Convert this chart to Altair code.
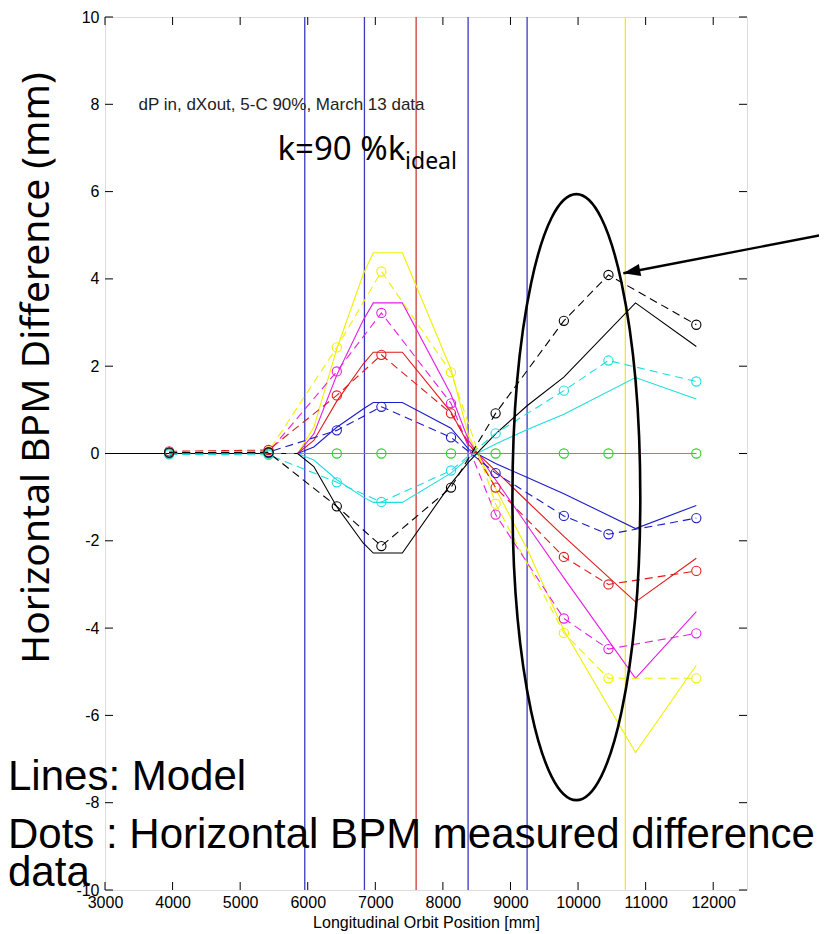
import altair as alt
import pandas as pd

# ---------------- data ----------------
series_names = ["yellow", "magenta", "red", "blue", "green", "cyan", "black"]
series_colors = ["#f0f000", "#e41ee4", "#e01a1a", "#1c1cc8", "#22d422", "#1edede", "#000000"]

# model (solid lines)
model_x = [3000, 3950, 5420, 5850, 6090, 6430, 6820, 6970, 7400, 8120, 8380, 8780, 9250, 9790, 10850, 11750]
model_yellow = [0, 0, 0, 0, 0.6, 2.4, 4.1, 4.6, 4.6, 1.93, 0.4, -0.8, -2.2, -4.05, -6.85, -4.85]
model_magenta = [0, 0, 0, 0, 0.45, 1.8, 3.05, 3.45, 3.45, 1.35, 0.3, -0.6, -1.65, -2.85, -5.15, -3.62]
model_red = [0, 0, 0, 0, 0.3, 1.2, 2.05, 2.32, 2.32, 0.95, 0.2, -0.4, -1.1, -1.9, -3.4, -2.4]
model_blue = [0, 0, 0, 0, 0.15, 0.6, 1.02, 1.17, 1.17, 0.58, 0.1, -0.23, -0.55, -0.92, -1.72, -1.19]
model_green = [0, 0, 0, 0, 0, 0, 0, 0, 0, 0, 0, 0, 0, 0, 0, 0]
model_cyan = [0, 0, 0, 0, -0.15, -0.6, -1.0, -1.12, -1.12, -0.45, -0.1, 0.22, 0.55, 0.9, 1.74, 1.25]
model_black = [0, 0, 0, 0, -0.3, -1.22, -2.05, -2.28, -2.28, -0.69, -0.2, 0.45, 1.1, 1.75, 3.45, 2.45]

# measured BPM differences (dashed lines with circles)
bpm_x = [3950, 5420, 6430, 7090, 8120, 8780, 9790, 10450, 11750]
meas_yellow = [0.0, 0.05, 2.43, 4.17, 1.86, -1.15, -4.11, -5.15, -5.15]
meas_magenta = [0.0, 0.03, 1.88, 3.22, 1.15, -1.4, -3.78, -4.48, -4.12]
meas_red = [0.05, 0.08, 1.33, 2.26, 0.92, -0.78, -2.37, -3.0, -2.69]
meas_blue = [0.02, 0.03, 0.53, 1.07, 0.37, -0.45, -1.43, -1.85, -1.48]
meas_green = [0, 0, 0, 0, 0, 0, 0, 0, 0]
meas_cyan = [-0.02, -0.03, -0.66, -1.11, -0.39, 0.46, 1.44, 2.13, 1.65]
meas_black = [0.02, 0.02, -1.21, -2.12, -0.78, 0.92, 3.04, 4.09, 2.95]

# magnet element positions (vertical lines)
element_x = [5956, 6839, 7604, 8373, 9246, 10700]
element_colors = ["#3a3abf", "#3a3abf", "#cc3a3a", "#3a3abf", "#3a3abf", "#f0f000"]

x_ticks = [3000, 4000, 5000, 6000, 7000, 8000, 9000, 10000, 11000, 12000]
y_ticks = [-10, -8, -6, -4, -2, 0, 2, 4, 6, 8, 10]

# annotation anchors (data coordinates)
ellipse_center = [9975, -1.0]
arrow_x = [13690, 10670]
arrow_y = [5.03, 4.13]

# ---------------- tables ----------------
model_vals = [model_yellow, model_magenta, model_red, model_blue, model_green, model_cyan, model_black]
meas_vals = [meas_yellow, meas_magenta, meas_red, meas_blue, meas_green, meas_cyan, meas_black]

model_df = pd.DataFrame(
    [{"x": x, "y": y, "series": n, "k": i}
     for n, vals in zip(series_names, model_vals) for i, (x, y) in enumerate(zip(model_x, vals))]
)
meas_df = pd.DataFrame(
    [{"x": x, "y": y, "series": n, "k": i}
     for n, vals in zip(series_names, meas_vals) for i, (x, y) in enumerate(zip(bpm_x, vals))]
)
elem_df = pd.DataFrame({"x": element_x, "c": element_colors})
xt_df = pd.DataFrame({"x": x_ticks})
yt_df = pd.DataFrame({"y": y_ticks})

W, H = 642, 873
FONT = "Liberation Sans"

xscale = alt.Scale(domain=[3000, 12500], nice=False, zero=False)
yscale = alt.Scale(domain=[-10, 10], nice=False, zero=False)
xaxis = alt.Axis(values=x_ticks, format="d", ticks=False, domain=False, grid=False,
                 labelPadding=4, labelFontSize=16, labelFont=FONT, labelColor="black",
                 labelFlush=False, title="Longitudinal Orbit Position [mm]", titleFont=FONT,
                 titleFontSize=16, titleFontWeight="normal", titleColor="black", titlePadding=4)
yaxis = alt.Axis(values=y_ticks, labelExpr="'' + datum.value", ticks=False, domain=False,
                 grid=False, labelPadding=6, labelFontSize=16, labelFont=FONT,
                 labelColor="black", labelFlush=False, title=None)


def X(f="x"):
    return alt.X(f"{f}:Q", scale=xscale, axis=xaxis)


def Y(f="y"):
    return alt.Y(f"{f}:Q", scale=yscale, axis=yaxis)


color = alt.Color("series:N", scale=alt.Scale(domain=series_names, range=series_colors), legend=None)

elements = alt.Chart(elem_df).mark_rule(strokeWidth=1.3).encode(
    x=X(), color=alt.Color("c:N", scale=None, legend=None))

model = alt.Chart(model_df).mark_line(strokeWidth=1.1).encode(
    x=X(), y=Y(), color=color, order="k:Q")

meas_line = alt.Chart(meas_df).mark_line(strokeWidth=1.1, strokeDash=[8, 5]).encode(
    x=X(), y=Y(), color=color, order="k:Q")

meas_pts = alt.Chart(meas_df).mark_point(filled=False, size=85, strokeWidth=1.1, opacity=1).encode(
    x=X(), y=Y(), color=color)

TL = 8
tick_b = alt.Chart(xt_df).mark_rule(color="black", strokeWidth=1).encode(
    x=X(), y=alt.value(H), y2=alt.value(H - TL))
tick_t = alt.Chart(xt_df).mark_rule(color="black", strokeWidth=1).encode(
    x=X(), y=alt.value(0), y2=alt.value(TL))
tick_l = alt.Chart(yt_df).mark_rule(color="black", strokeWidth=1).encode(
    y=Y(), x=alt.value(0), x2=alt.value(TL))
tick_r = alt.Chart(yt_df).mark_rule(color="black", strokeWidth=1).encode(
    y=Y(), x=alt.value(W), x2=alt.value(W - TL))

# ellipse (custom symbol path, unit box scaled by sqrt(size)/2)
ellipse_path = ("M0,-1 C0.1165,-1 0.211,-0.5523 0.211,0 C0.211,0.5523 0.1165,1 0,1 "
                "C-0.1165,1 -0.211,0.5523 -0.211,0 C-0.211,-0.5523 -0.1165,-1 0,-1 Z")
ell_df = pd.DataFrame({"x": [ellipse_center[0]], "y": [ellipse_center[1]]})
ellipse = alt.Chart(ell_df).mark_point(shape=ellipse_path, filled=False, size=606 * 606,
                                       strokeWidth=2.6, color="black", opacity=1).encode(
    x=X(), y=Y())

arr_df = pd.DataFrame({"x": arrow_x, "y": arrow_y, "k": [0, 1]})
arrow = alt.Chart(arr_df).mark_line(strokeWidth=2.4, color="black").encode(
    x=X(), y=Y(), order="k:Q")
head_df = pd.DataFrame({"x": [arrow_x[1]], "y": [arrow_y[1]]})
head = alt.Chart(head_df).mark_point(shape="M0,0 L1,-0.36 L1,0.36 Z", filled=True, size=1156,
                                     angle=349, color="black", opacity=1).encode(x=X(), y=Y())

# texts
info_df = pd.DataFrame({"x": [3496], "y": [7.87], "t": ["dP in, dXout, 5-C 90%, March 13 data"]})
info = alt.Chart(info_df).mark_text(align="left", baseline="alphabetic", font=FONT,
                                    fontSize=17, color="#222222").encode(x=X(), y=Y(), text="t:N")

k_df = pd.DataFrame({"x": [5552], "y": [6.72], "t": ["k=90 %k"]})
ktext = alt.Chart(k_df).mark_text(align="left", baseline="alphabetic", font="Noto Sans",
                                  fontSize=33, color="black").encode(x=X(), y=Y(), text="t:N")
sub_df = pd.DataFrame({"x": [7440], "y": [6.52], "t": ["ideal"]})
subtext = alt.Chart(sub_df).mark_text(align="left", baseline="alphabetic", font="Noto Sans",
                                      fontSize=23, color="black").encode(x=X(), y=Y(), text="t:N")

ytitle = alt.Chart(pd.DataFrame({"t": ["Horizontal BPM Difference (mm)"]})).mark_text(
    angle=270, align="center", baseline="middle", font="Noto Sans", fontSize=39,
    color="black").encode(x=alt.value(-68), y=alt.value(351), text="t:N")

legend_lines = ["Lines: Model", "Dots : Horizontal BPM measured difference", "data"]
legend_base = [773, 831, 869]
leg_layers = [
    alt.Chart(pd.DataFrame({"t": [txt]})).mark_text(
        align="left", baseline="alphabetic", font=FONT, fontSize=42, color="black").encode(
        x=alt.value(-97), y=alt.value(b), text="t:N")
    for txt, b in zip(legend_lines, legend_base)
]

chart = alt.layer(
    elements, model, meas_line, meas_pts, tick_b, tick_t, tick_l, tick_r,
    ellipse, arrow, head, info, ktext, subtext, ytitle, *leg_layers
).properties(
    width=W, height=H,
    autosize=alt.AutoSizeParams(type="none"),
    padding={"left": 97, "top": 9, "right": 72, "bottom": 42},
).configure_view(stroke="black", strokeWidth=1).configure(background="white")

chart.save("out.html", embed_options={"renderer": "svg", "actions": False})
